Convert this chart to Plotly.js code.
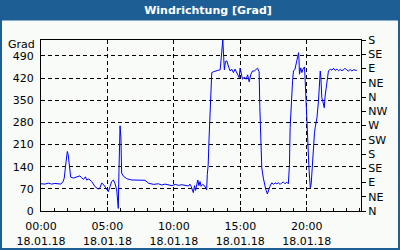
<!DOCTYPE html>
<html>
<head>
<meta charset="utf-8">
<script src="https://cdn.plot.ly/plotly-3.0.1.min.js"></script>
<style>html,body{margin:0;padding:0;background:#f8fbf8;}#chart{width:400px;height:250px;}</style>
</head>
<body>
<div id="chart"></div>
<script>
// ---- data ----
const times = ["00:00","00:18","00:33","00:48","01:03","01:18","01:30","01:39","01:45","01:53","01:59","02:03","02:08","02:14","02:26","02:42","02:56","03:03","03:12","03:21","03:26","03:36","03:49","04:04","04:12","04:19","04:27","04:34","04:42","04:49","05:04","05:12","05:19","05:27","05:34","05:42","05:46","05:49","05:52","05:57","06:01","06:04","06:12","06:27","06:50","07:20","07:50","08:05","08:28","08:50","09:05","09:20","09:36","09:51","10:06","10:21","10:36","10:51","11:06","11:12","11:18","11:28","11:33","11:38","11:43","11:48","11:53","11:58","12:03","12:10","12:18","12:28","12:31","12:35","12:39","12:44","12:48","12:51","13:00","13:06","13:18","13:29","13:33","13:37","13:41","13:45","13:48","13:53","13:59","14:06","14:14","14:21","14:29","14:36","14:44","14:51","14:55","14:59","15:03","15:10","15:18","15:26","15:33","15:40","15:47","15:55","16:03","16:11","16:18","16:23","16:25","16:28","16:31","16:34","16:37","16:44","16:49","16:55","17:02","17:07","17:14","17:22","17:30","17:37","17:45","17:52","18:00","18:07","18:15","18:22","18:30","18:37","18:42","18:45","18:50","18:56","19:00","19:07","19:15","19:23","19:25","19:27","19:33","19:38","19:43","19:50","19:53","19:56","20:00","20:03","20:06","20:10","20:13","20:16","20:20","20:23","20:26","20:30","20:35","20:38","20:46","20:53","20:58","21:01","21:04","21:08","21:13","21:19","21:23","21:28","21:34","21:38","21:46","21:54","22:01","22:09","22:16","22:24","22:31","22:39","22:46","22:53","23:01","23:08","23:16","23:24","23:31","23:38","23:46"];
const direction = [86,85,88,85,87,86,85,92,104,155,188,177,140,107,104,107,111,105,100,108,98,101,93,77,72,69,75,88,84,77,61,78,93,98,87,66,30,8,125,269,230,120,110,102,98,98,97,88,84,86,82,85,82,80,84,81,83,80,79,85,78,58,80,65,86,98,80,93,78,84,80,67,115,146,231,337,400,437,440,442,444,446,485,527,540,485,446,472,474,458,442,448,437,448,437,431,421,451,437,416,423,416,430,408,430,442,442,448,451,442,440,330,260,210,136,104,84,68,54,68,78,89,84,89,86,89,84,89,91,86,91,86,147,263,358,411,442,448,474,500,480,432,452,437,448,455,411,358,305,231,157,136,104,73,84,126,147,221,247,263,294,347,411,442,420,358,345,326,363,390,421,442,448,445,451,444,448,443,447,443,446,451,445,442,447,442,446,445,444];
const day = "2018-01-18";
const leftTicks = [0,70,140,210,280,350,420,490];
const rightTickVals = [0,45,90,135,180,225,270,315,360,405,450,495,540];
const rightTickText = ["N","NE","E","SE","S","SW","W","NW","N","NE","E","SE","S"];
const titleText = "Windrichtung [Grad]";
const unitText = "Grad";

// ---- layout geometry ----
const W = 400, H = 250, L = 41, R = 39, T = 40, B = 39;
const pw = W - L - R, ph = H - T - B;
const px = x => (x - L) / pw;
const py = y => (H - B - y) / ph;
const blue = "#1d5f95";
const font = {family: "DejaVu Sans, Verdana, sans-serif", size: 11, color: "#000"};

const x = times.map(t => day + " " + t);

const traces = [
  {x: x, y: direction, type: "scatter", mode: "lines", line: {color: "#0000ff", width: 1}, hoverinfo: "skip", showlegend: false},
  {x: [x[0]], y: [direction[0]], yaxis: "y2", type: "scatter", mode: "lines", line: {width: 0}, opacity: 0, hoverinfo: "skip", showlegend: false}
];

const layout = {
  width: W, height: H,
  margin: {l: L, r: R, t: T, b: B, pad: 0},
  paper_bgcolor: "#f8fbf8", plot_bgcolor: "#f8fbf8",
  font: font,
  showlegend: false,
  title: {text: "<b>" + titleText + "</b>", font: {family: "DejaVu Sans, Verdana, sans-serif", size: 11, color: "#ffffff"},
          x: 0.52, xref: "container", xanchor: "center", y: 1 - 10.5 / H, yref: "container", yanchor: "middle"},
  xaxis: {
    type: "date", range: [day + " 00:00", "2018-01-19 00:05"],
    tick0: day + " 00:00", dtick: 5 * 3600000, tickformat: "%H:%M<br>%d.%m.%y",
    ticks: "inside", ticklen: 4, tickcolor: "#000", ticklabelstandoff: 5,
    showgrid: true, gridcolor: "#000", gridwidth: 1, griddash: "4px,3px",
    minor: {dtick: 3600000, ticks: "inside", ticklen: 3, tickcolor: "#000", showgrid: false},
    showline: true, linecolor: "#000", linewidth: 1, mirror: true,
    zeroline: false, tickfont: font, fixedrange: true
  },
  yaxis: {
    range: [0, 540], tickvals: leftTicks, ticks: "", ticklabelstandoff: 4,
    showgrid: true, gridcolor: "#000", gridwidth: 1, griddash: "4px,3px",
    showline: true, linecolor: "#000", linewidth: 1, mirror: true,
    zeroline: false, tickfont: font, fixedrange: true
  },
  yaxis2: {
    overlaying: "y", side: "right", range: [0, 540],
    tickvals: rightTickVals, ticktext: rightTickText,
    ticks: "outside", ticklen: 4, tickcolor: "#000",
    showgrid: false, zeroline: false, showline: false, tickfont: font, fixedrange: true
  },
  annotations: [
    {text: unitText, xref: "paper", yref: "paper", x: px(37), y: py(44), xanchor: "right", yanchor: "middle", showarrow: false, font: font}
  ],
  shapes: [
    {type: "rect", xref: "paper", yref: "paper", x0: px(0), x1: px(400), y0: py(0), y1: py(20.5), fillcolor: blue, line: {width: 0}, layer: "below"},
    {type: "rect", xref: "paper", yref: "paper", x0: px(1), x1: px(399), y0: py(1), y1: py(249), fillcolor: "rgba(0,0,0,0)", line: {color: blue, width: 2}, layer: "above"}
  ]
};

Plotly.newPlot("chart", traces, layout, {staticPlot: true, displayModeBar: false});
</script>
</body>
</html>
